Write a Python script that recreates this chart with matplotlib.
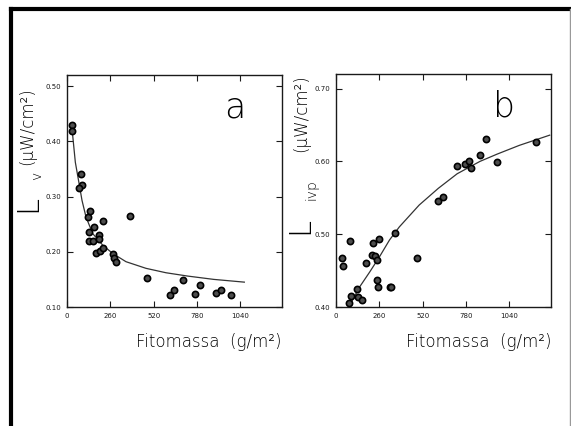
import matplotlib
matplotlib.use("Agg")
import matplotlib.pyplot as plt

# panel a: L_v vs phytomass
a_x = [30, 30, 84, 90, 74, 124, 138, 134, 160, 130, 154, 190, 194, 176, 198,
       216, 218, 276, 284, 294, 380, 480, 616, 640, 698, 768, 796, 894, 926, 982]
a_y = [0.429, 0.419, 0.340, 0.320, 0.316, 0.263, 0.273, 0.236, 0.244, 0.219,
       0.220, 0.231, 0.224, 0.197, 0.202, 0.255, 0.207, 0.196, 0.189, 0.181,
       0.264, 0.152, 0.122, 0.130, 0.149, 0.124, 0.140, 0.126, 0.131, 0.122]
a_fit_x = [32, 50, 74, 90, 114, 154, 214, 274, 354, 474, 594, 724, 880, 1064]
a_fit_y = [0.417, 0.362, 0.321, 0.293, 0.263, 0.233, 0.212, 0.197, 0.182,
           0.170, 0.162, 0.156, 0.150, 0.145]

# panel b: L_ivp vs phytomass
b_x = [38, 44, 83, 89, 79, 123, 133, 158, 178, 222, 216, 232, 246, 256, 244,
       252, 321, 331, 351, 483, 614, 642, 727, 771, 800, 812, 864, 901, 967, 1202]
b_y = [0.467, 0.456, 0.491, 0.415, 0.405, 0.425, 0.414, 0.409, 0.461, 0.488,
       0.472, 0.470, 0.465, 0.493, 0.437, 0.427, 0.427, 0.427, 0.502, 0.467,
       0.545, 0.551, 0.593, 0.596, 0.600, 0.591, 0.609, 0.631, 0.599, 0.626]
b_fit_x = [93, 143, 202, 261, 321, 380, 499, 614, 727, 864, 967, 1100, 1282]
b_fit_y = [0.407, 0.428, 0.448, 0.469, 0.492, 0.510, 0.540, 0.563, 0.583,
           0.600, 0.610, 0.622, 0.636]

x_ticks = [0, 260, 520, 780, 1040]
a_yticks = [0.10, 0.20, 0.30, 0.40, 0.50]
b_yticks = [0.40, 0.50, 0.60, 0.70]

ink = "black"
plt.rcParams["font.family"] = ["DejaVu Sans"]
lbl = dict(color=ink, fontweight="light")

fig = plt.figure(figsize=(5.71, 4.26), dpi=100)

# scanned page frame
fig.add_artist(plt.Line2D([11 / 571, 11 / 571], [0, 1 - 9 / 426], color="black", lw=3))
fig.add_artist(plt.Line2D([11 / 571, 1], [1 - 9 / 426, 1 - 9 / 426], color="black", lw=3))
fig.add_artist(plt.Line2D([569.5 / 571, 569.5 / 571], [0, 1 - 9 / 426], color="#999999", lw=1))

ax_a = fig.add_axes([67 / 571, 1 - 307 / 426, 215 / 571, 232 / 426])
ax_b = fig.add_axes([336 / 571, 1 - 307 / 426, 215 / 571, 233 / 426])

panels = [
    (ax_a, a_x, a_y, a_fit_x, a_fit_y, a_yticks, (0.10, 0.52), "a"),
    (ax_b, b_x, b_y, b_fit_x, b_fit_y, b_yticks, (0.40, 0.72), "b"),
]

for ax, xs, ys, fx, fy, yt, ylim, letter in panels:
    ax.plot(fx, fy, color="#333333", lw=0.9)
    ax.scatter(xs, ys, s=20, facecolor="#4d4d4d", edgecolor="black", linewidth=1.2, zorder=3)
    ax.set_xlim(0, 1290)
    ax.set_ylim(*ylim)
    ax.set_xticks(x_ticks)
    ax.set_yticks(yt)
    ax.set_yticklabels([f"{v:.2f}" for v in yt])
    ax.tick_params(direction="in", length=4, width=0.8, color="#1a1a1a", labelsize=5,
                   labelcolor="#1a1a1a", top=True, right=True, pad=4)
    for sp in ax.spines.values():
        sp.set_color("#1a1a1a")
        sp.set_linewidth(1.0)
    ax.text(0.78, 0.86, letter, transform=ax.transAxes, fontsize=25,
            ha="center", va="center", **lbl)
    ax.text(1.0, -0.15, "Fitomassa  (g/m²)", transform=ax.transAxes, fontsize=12,
            ha="right", va="center", **lbl)

# y-axis labels, big L with subscript and units
fig.text(28 / 571, 1 - 204 / 426, "L", rotation=90, fontsize=22, ha="center",
         va="center", **lbl)
fig.text(37 / 571, 1 - 176 / 426, "v", rotation=90, fontsize=10, ha="center",
         va="center", **lbl)
fig.text(27 / 571, 1 - 126 / 426, "(μW/cm²)", rotation=90, fontsize=12,
         ha="center", va="center", **lbl)

fig.text(300 / 571, 1 - 226 / 426, "L", rotation=90, fontsize=22, ha="center",
         va="center", **lbl)
fig.text(311 / 571, 1 - 190 / 426, "ivp", rotation=90, fontsize=10, ha="center",
         va="center", **lbl)
fig.text(301 / 571, 1 - 113 / 426, "(μW/cm²)", rotation=90, fontsize=12,
         ha="center", va="center", **lbl)

fig.savefig("out.png", dpi=100)
